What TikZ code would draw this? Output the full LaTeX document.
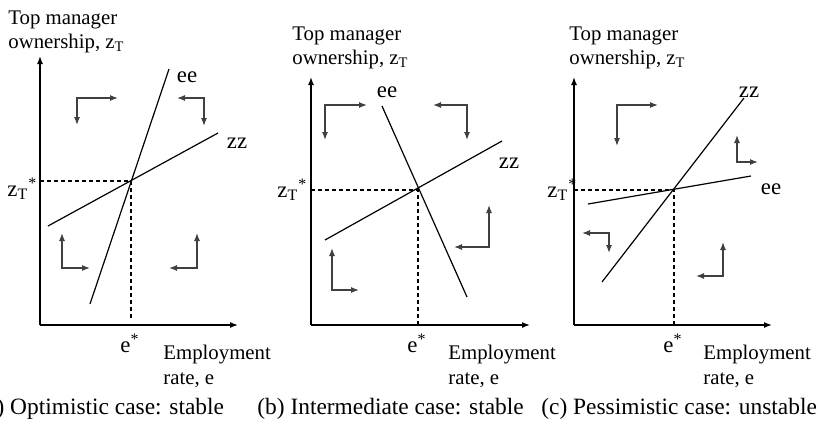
\documentclass[tikz,border=0pt]{standalone}
\usepackage{fontspec}
\setmainfont{Liberation Serif}
\usetikzlibrary{arrows.meta}

\begin{document}
\begin{tikzpicture}[
    x=0.5pt, y=-0.5pt,
    axis/.style={-{Latex[length=4pt,width=3pt]}, line width=0.7pt},
    curve/.style={line width=0.6pt},
    guide/.style={line width=0.55pt, dash pattern=on 2pt off 1.5pt},
    flow/.style={{Latex[length=4pt,width=3pt]}-{Latex[length=4pt,width=3pt]}, line width=0.6pt, black!75},
    label/.style={inner sep=0pt, font=\fontsize{10.4}{12.2}\selectfont, align=left},
    symb/.style={inner sep=0pt, font=\fontsize{11.4}{13}\selectfont},
    caption/.style={inner sep=0pt, font=\fontsize{11.7}{14}\selectfont, anchor=base west}
]
\useasboundingbox (0,0) rectangle (818,430);

% (a) optimistic
\coordinate (oa) at (40,325);
\coordinate (qa) at (131,181);
\draw[axis] (oa) -- (40,56);
\draw[axis] (oa) -- (238,325);
\draw[guide] (oa |- qa) -- (qa) -- (131,319);
\draw[curve] (169,69) -- (90,304);
\draw[curve] (218,133) -- (48,226);
\draw[flow] (77,125) -- (77,98) -- (118,98);
\draw[flow] (177,98) -- (204,98) -- (204,126);
\draw[flow] (62,233) -- (62,268) -- (90,268);
\draw[flow] (197,233) -- (197,268) -- (169,268);
\node[label, anchor=north west] (ya) at (8,10) {Top manager\\ownership, z\textsubscript{T}};
\node[label, anchor=north west] (xa) at (163,345) {Employment\\rate, e};
\node[symb] (eea) at (187,77) {ee};
\node[symb] (zza) at (237,143) {zz};
\node[symb, anchor=base west] (za) at (7,196) {z\textsubscript{T}\textsuperscript{*}};
\node[symb, anchor=base east] (ea) at (131,352) {e\rlap{\textsuperscript{*}}};
\node[caption] (ca) at (-22,414) {(a) Optimistic case: stable};

% (b) intermediate
\coordinate (ob) at (311,325);
\coordinate (qb) at (418,190);
\draw[axis] (ob) -- (311,77);
\draw[axis] (ob) -- (530,325);
\draw[guide] (ob |- qb) -- (qb) -- (qb |- ob);
\draw[curve] (382,106) -- (467,297);
\draw[curve] (502,141) -- (325,240);
\draw[flow] (325,140) -- (325,105) -- (367,105);
\draw[flow] (433,105) -- (467,105) -- (467,140);
\draw[flow] (332,248) -- (332,290) -- (359,290);
\draw[flow] (489,205) -- (489,247) -- (454,247);
\node[label, anchor=north west] (yb) at (292,26) {Top manager\\ownership, z\textsubscript{T}};
\node[label, anchor=north west] (xb) at (448,345) {Employment\\rate, e};
\node[symb] (eeb) at (387,92) {ee};
\node[symb] (zzb) at (509,163) {zz};
\node[symb, anchor=base west] (zb) at (277,197) {z\textsubscript{T}\textsuperscript{*}};
\node[symb, anchor=base east] (eb) at (418,352) {e\rlap{\textsuperscript{*}}};
\node[caption] (cb) at (257,414) {(b) Intermediate case: stable};

% (c) pessimistic
\coordinate (oc) at (574,325);
\coordinate (qc) at (674,190);
\draw[axis] (oc) -- (574,77);
\draw[axis] (oc) -- (772,325);
\draw[guide] (oc |- qc) -- (qc) -- (qc |- oc);
\draw[curve] (744,98) -- (602,282);
\draw[curve] (751,176) -- (588,204);
\draw[flow] (617,146) -- (617,105) -- (658,105);
\draw[flow] (737,135) -- (737,162) -- (758,162);
\draw[flow] (582,233) -- (609,233) -- (609,253);
\draw[flow] (723,242) -- (723,276) -- (696,276);
\node[label, anchor=north west] (yc) at (569,26) {Top manager\\ownership, z\textsubscript{T}};
\node[label, anchor=north west] (xc) at (703,345) {Employment\\rate, e};
\node[symb] (zzc) at (749,92) {zz};
\node[symb] (eec) at (771,189) {ee};
\node[symb, anchor=base west] (zc) at (547,197) {z\textsubscript{T}\textsuperscript{*}};
\node[symb, anchor=base east] (ec) at (674,352) {e\rlap{\textsuperscript{*}}};
\node[caption] (cc) at (541,414) {(c) Pessimistic case: unstable};
\end{tikzpicture}
\end{document}
